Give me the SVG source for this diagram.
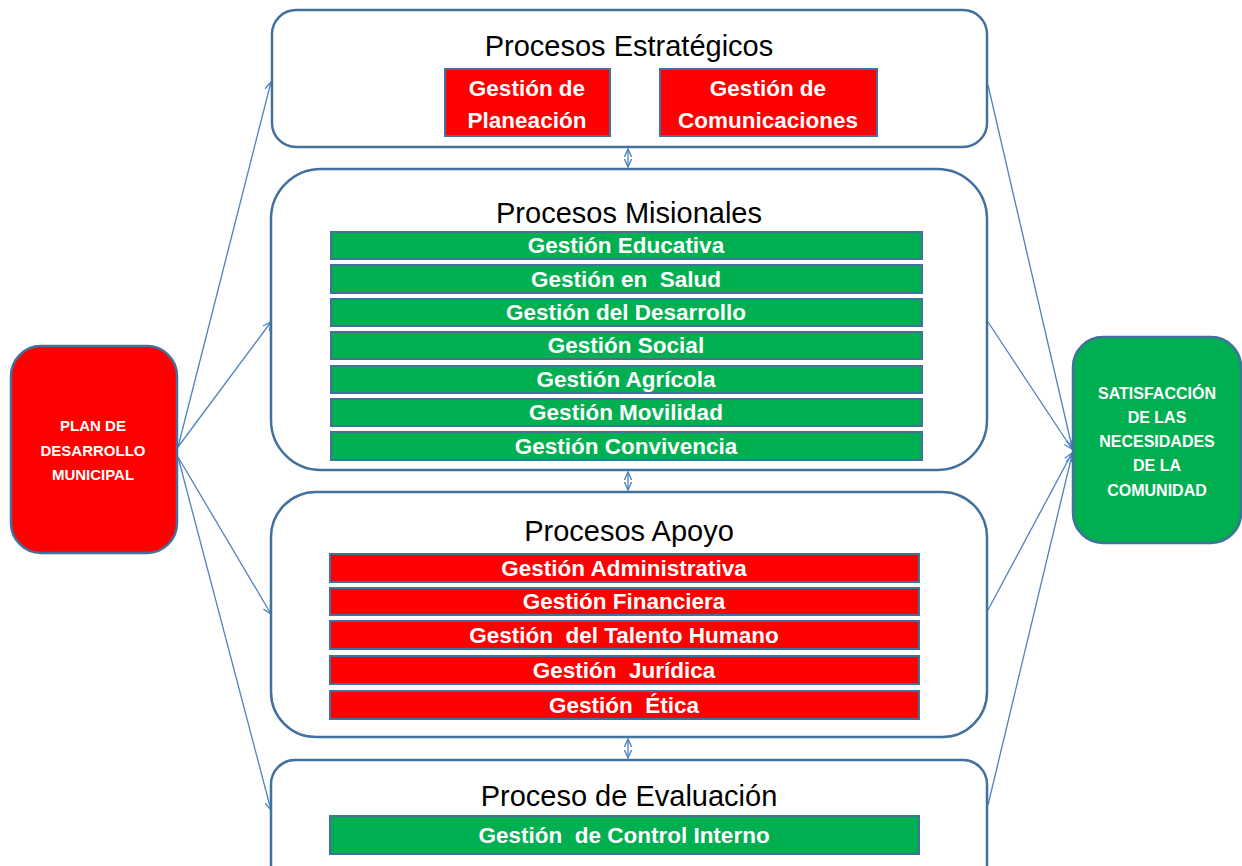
<svg xmlns="http://www.w3.org/2000/svg" width="1242" height="866" viewBox="0 0 1242 866">
<style>
.frame{fill:#fff;stroke:#41719C;stroke-width:2.5}
.red{fill:#FF0000;stroke:#41719C;stroke-width:2}
.green{fill:#00B050;stroke:#41719C;stroke-width:2}
.title{font-family:"Liberation Sans",Arial,sans-serif;font-size:29px;fill:#000;text-anchor:middle}
.bar{font-family:"Liberation Sans",Arial,sans-serif;font-size:22.5px;font-weight:bold;fill:#fff;text-anchor:middle}
.small{font-family:"Liberation Sans",Arial,sans-serif;font-size:15px;font-weight:bold;fill:#fff;text-anchor:middle}
.small2{font-family:"Liberation Sans",Arial,sans-serif;font-size:16px;font-weight:bold;fill:#fff;text-anchor:middle}
.conn{fill:none;stroke:#4F81BD;stroke-width:1.3}
</style>
<defs>
<marker id="arr" viewBox="0 0 10 10" refX="9" refY="5" markerWidth="10" markerHeight="10" markerUnits="userSpaceOnUse" orient="auto">
<path d="M1,1 L9,5 L1,9" fill="none" stroke="#4F81BD" stroke-width="1.3"/>
</marker>
<marker id="dbl" viewBox="0 0 10 10" refX="9" refY="5" markerWidth="9" markerHeight="9" markerUnits="userSpaceOnUse" orient="auto-start-reverse">
<path d="M0,1 L9,5 L0,9" fill="none" stroke="#4F81BD" stroke-width="1.5"/>
</marker>
</defs>

<g id="connectors">
<path class="conn" d="M178,447 L271,82" marker-end="url(#arr)"/>
<path class="conn" d="M178,447 L271,322" marker-end="url(#arr)"/>
<path class="conn" d="M178,457 L271,614" marker-end="url(#arr)"/>
<path class="conn" d="M178,457 L271,810" marker-end="url(#arr)"/>
<path class="conn" d="M988,85 L1072,447" marker-end="url(#arr)"/>
<path class="conn" d="M988,322 L1072,449" marker-end="url(#arr)"/>
<path class="conn" d="M988,610 L1072,453" marker-end="url(#arr)"/>
<path class="conn" d="M988,805 L1072,455" marker-end="url(#arr)"/>
<path class="conn" d="M628,149 L628,167" marker-start="url(#dbl)" marker-end="url(#dbl)"/>
<path class="conn" d="M628,472 L628,490" marker-start="url(#dbl)" marker-end="url(#dbl)"/>
<path class="conn" d="M628,739 L628,758" marker-start="url(#dbl)" marker-end="url(#dbl)"/>
</g>

<g id="plan">
<rect x="11" y="346" width="166" height="207" rx="30" fill="#FF0000" stroke="#41719C" stroke-width="2.5"/>
<text class="small" x="93" y="431">PLAN DE</text>
<text class="small" x="93" y="456">DESARROLLO</text>
<text class="small" x="93" y="480">MUNICIPAL</text>
</g>

<g id="satisfaccion">
<rect x="1073" y="337" width="168" height="206" rx="30" fill="#00B050" stroke="#41719C" stroke-width="2.5"/>
<text class="small2" x="1157" y="399">SATISFACCIÓN</text>
<text class="small2" x="1157" y="423">DE LAS</text>
<text class="small2" x="1157" y="447">NECESIDADES</text>
<text class="small2" x="1157" y="471">DE LA</text>
<text class="small2" x="1157" y="496">COMUNIDAD</text>
</g>

<g id="estrategicos">
<rect class="frame" x="272" y="10" width="715" height="137" rx="24"/>
<text class="title" x="629" y="56">Procesos Estratégicos</text>
<rect class="red" x="445" y="69" width="165" height="67"/>
<text class="bar" x="527" y="96">Gestión de</text>
<text class="bar" x="527" y="128">Planeación</text>
<rect class="red" x="660" y="69" width="217" height="67"/>
<text class="bar" x="768" y="96">Gestión de</text>
<text class="bar" x="768" y="128">Comunicaciones</text>
</g>

<g id="misionales">
<rect class="frame" x="271" y="169" width="716" height="301" rx="50"/>
<text class="title" x="629" y="223">Procesos Misionales</text>
<rect class="green" x="331" y="232" width="591" height="27"/>
<text class="bar" x="626" y="253">Gestión Educativa</text>
<rect class="green" x="331" y="265" width="591" height="28"/>
<text class="bar" x="626" y="287" xml:space="preserve">Gestión en  Salud</text>
<rect class="green" x="331" y="299" width="591" height="27"/>
<text class="bar" x="626" y="320">Gestión del Desarrollo</text>
<rect class="green" x="331" y="332" width="591" height="27"/>
<text class="bar" x="626" y="353">Gestión Social</text>
<rect class="green" x="331" y="366" width="591" height="27"/>
<text class="bar" x="626" y="387">Gestión Agrícola</text>
<rect class="green" x="331" y="399" width="591" height="27"/>
<text class="bar" x="626" y="420">Gestión Movilidad</text>
<rect class="green" x="331" y="432" width="591" height="28"/>
<text class="bar" x="626" y="454">Gestión Convivencia</text>
</g>

<g id="apoyo">
<rect class="frame" x="271" y="492" width="716" height="245" rx="45"/>
<text class="title" x="629" y="541">Procesos Apoyo</text>
<rect class="red" x="330" y="554" width="589" height="28"/>
<text class="bar" x="624" y="576">Gestión Administrativa</text>
<rect class="red" x="330" y="588" width="589" height="27"/>
<text class="bar" x="624" y="609">Gestión Financiera</text>
<rect class="red" x="330" y="621" width="589" height="28"/>
<text class="bar" x="624" y="643" xml:space="preserve">Gestión  del Talento Humano</text>
<rect class="red" x="330" y="656" width="589" height="28"/>
<text class="bar" x="624" y="678" xml:space="preserve">Gestión  Jurídica</text>
<rect class="red" x="330" y="691" width="589" height="28"/>
<text class="bar" x="624" y="713" xml:space="preserve">Gestión  Ética</text>
</g>

<g id="evaluacion">
<rect class="frame" x="271" y="760" width="716" height="130" rx="24"/>
<text class="title" x="629" y="806">Proceso de Evaluación</text>
<rect class="green" x="330" y="816" width="589" height="38"/>
<text class="bar" x="624" y="843" xml:space="preserve">Gestión  de Control Interno</text>
</g>
</svg>
